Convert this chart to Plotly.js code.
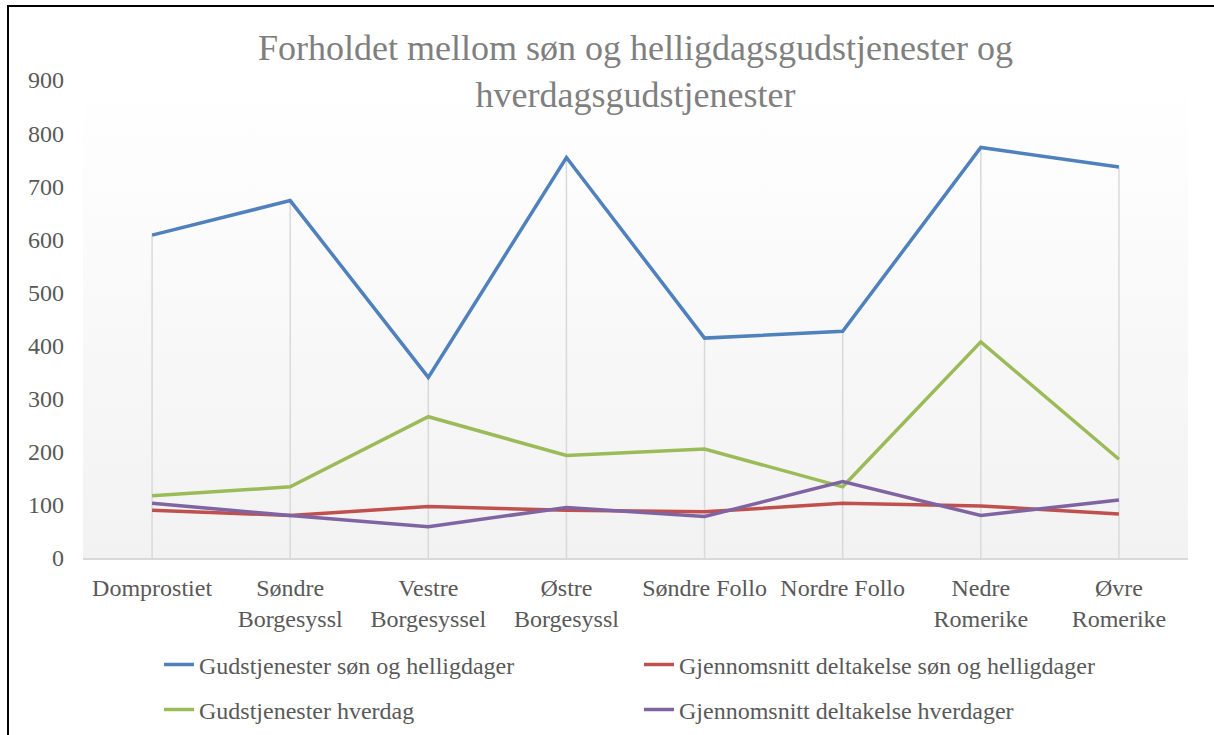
<!DOCTYPE html>
<html>
<head>
<meta charset="utf-8">
<script src="https://cdn.plot.ly/plotly-3.0.1.min.js"></script>
<style>
html,body{margin:0;padding:0;background:#fff;}
#wrap{position:relative;width:1214px;height:735px;overflow:hidden;}
#chart{position:absolute;left:0;top:0;width:1214px;height:735px;}
#btop{position:absolute;left:7px;top:5px;width:1207px;height:2px;background:#000;z-index:5;}
#bleft{position:absolute;left:7px;top:5px;width:2px;height:730px;background:#000;z-index:5;}
</style>
</head>
<body>
<div id="wrap">
<div id="chart"></div>
<div id="btop"></div>
<div id="bleft"></div>
</div>
<script>
// ---- data ----
const categories = ["Domprostiet", "Søndre<br>Borgesyssl", "Vestre<br>Borgesyssel", "Østre<br>Borgesyssl",
                    "Søndre Follo", "Nordre Follo", "Nedre<br>Romerike", "Øvre<br>Romerike"];
const gudstjenesterSon = [608, 673, 340, 754, 414, 427, 773, 736];
const deltakelseSon    = [90, 80, 97, 90, 87, 103, 98, 83];
const gudstjenesterHverdag = [117, 134, 266, 193, 205, 134, 407, 186];
const deltakelseHverdag    = [103, 80, 59, 95, 78, 144, 80, 109];
const yTicks = [0, 100, 200, 300, 400, 500, 600, 700, 800, 900];

const seriesNames = ["Gudstjenester søn og helligdager", "Gjennomsnitt deltakelse søn og helligdager",
                     "Gudstjenester hverdag", "Gjennomsnitt deltakelse hverdager"];

// ---- styles ----
const FONT = "Liberation Serif";
const TXT = "#595959";

// drop lines from the highest point in each category to the axis
const dropX = [], dropY = [];
categories.forEach((c, i) => {
  const m = Math.max(gudstjenesterSon[i], deltakelseSon[i], gudstjenesterHverdag[i], deltakelseHverdag[i]);
  dropX.push(c, c, c);
  dropY.push(m, 0, null);
});

const mk = (name, y, color, legend) => ({
  type: "scatter", mode: "lines", name: name, x: categories, y: y,
  line: {color: color, width: 3.5}, legend: legend, hoverinfo: "x+y+name"
});

const traces = [
  {type: "scatter", mode: "lines", x: dropX, y: dropY, showlegend: false, hoverinfo: "skip",
   line: {color: "#d9d9d9", width: 1.5}, connectgaps: false},
  mk(seriesNames[0], gudstjenesterSon, "#4f81bd", "legend"),
  mk(seriesNames[1], deltakelseSon, "#c0504d", "legend"),
  mk(seriesNames[2], gudstjenesterHverdag, "#9bbb59", "legend2"),
  mk(seriesNames[3], deltakelseHverdag, "#8064a2", "legend2")
];

const gradSvg = 'data:image/svg+xml;utf8,' + encodeURIComponent(
  '<svg xmlns="http://www.w3.org/2000/svg" width="100" height="100" preserveAspectRatio="none">' +
  '<defs><linearGradient id="g" x1="0" y1="0" x2="0" y2="1">' +
  '<stop offset="0" stop-color="#ffffff"/><stop offset="1" stop-color="#f2f2f2"/></linearGradient></defs>' +
  '<rect width="100" height="100" fill="url(#g)"/></svg>');

const legendBase = {
  orientation: "h", xanchor: "left", yanchor: "middle",
  font: {family: FONT, size: 24, color: TXT},
  bgcolor: "rgba(0,0,0,0)", borderwidth: 0,
  entrywidth: 435, entrywidthmode: "pixels", itemwidth: 30
};

const layout = {
  width: 1214, height: 735,
  margin: {l: 83, r: 26, t: 80, b: 177, autoexpand: false},
  font: {family: FONT, size: 24, color: TXT},
  paper_bgcolor: "#ffffff",
  plot_bgcolor: "rgba(0,0,0,0)",
  title: {
    text: "Forholdet mellom søn og helligdagsgudstjenester og<br>hverdagsgudstjenester",
    font: {family: FONT, size: 36, color: "#7f7f7f"},
    x: 0.5, xanchor: "center", xref: "paper", yref: "container", y: 0.918, yanchor: "top"
  },
  xaxis: {
    type: "category", range: [-0.5, 7.5], showgrid: false, zeroline: false,
    showline: true, linecolor: "#d9d9d9", linewidth: 1.5, ticks: "",
    ticklabelstandoff: 7, automargin: false,
    tickfont: {family: FONT, size: 24, color: TXT}, fixedrange: true
  },
  yaxis: {
    range: [0, 900], tickvals: yTicks, ticktext: yTicks.map(String),
    showgrid: false, zeroline: false, showline: false, ticks: "",
    ticklabelstandoff: 18, automargin: false,
    tickfont: {family: FONT, size: 24, color: TXT}, fixedrange: true
  },
  images: [{source: gradSvg, xref: "paper", yref: "paper", x: 0, y: 1, sizex: 1, sizey: 1,
            sizing: "stretch", layer: "below", xanchor: "left", yanchor: "top"}],
  legend: Object.assign({}, legendBase, {x: (159 - 83) / 1105, y: (558 - 665) / 478}),
  legend2: Object.assign({}, legendBase, {x: (159 - 83) / 1105, y: (558 - 710) / 478}),
  showlegend: true
};

Plotly.newPlot("chart", traces, layout, {displayModeBar: false});
</script>
</body>
</html>
